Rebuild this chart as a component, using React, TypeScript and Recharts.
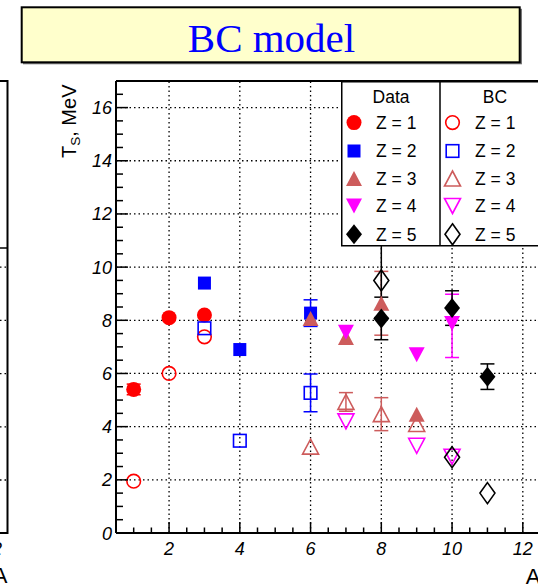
import React from 'react';
import { ScatterChart, Scatter, XAxis, YAxis, ErrorBar, ReferenceLine } from 'recharts';

// series styling per charge Z
const zLabels = ['Z = 1', 'Z = 2', 'Z = 3', 'Z = 4', 'Z = 5'];
const zColors = ['#ff0000', '#0000ff', '#cd5c5c', '#ff00ff', '#000000'];
const zShapes = ['circle', 'square', 'triUp', 'triDown', 'diamond'];

// measured T_S (filled markers), a = mass number A
const dataZ1 = [{ a: 1, t: 5.4, err: 0.2 }, { a: 2, t: 8.1 }, { a: 3, t: 8.2 }];
const dataZ2 = [{ a: 3, t: 9.4 }, { a: 4, t: 6.9 }, { a: 6, t: 8.27, err: 0.5 }];
const dataZ3 = [{ a: 6, t: 8.07 }, { a: 7, t: 7.35 }, { a: 8, t: 8.64, err: 1.2 }, { a: 9, t: 4.47 }];
const dataZ4 = [{ a: 7, t: 7.55 }, { a: 9, t: 6.7 }, { a: 10, t: 7.88, err: [1.28, 1.1] }];
const dataZ5 = [{ a: 8, t: 8.07, err: 0.8 }, { a: 10, t: 8.46, err: 0.65 }, { a: 11, t: 5.88, err: 0.48 }];

// BC model (open markers)
const bcZ1 = [{ a: 1, t: 1.95 }, { a: 2, t: 6.0 }, { a: 3, t: 7.38 }];
const bcZ2 = [{ a: 3, t: 7.7 }, { a: 4, t: 3.47 }, { a: 6, t: 5.27, err: 0.71 }];
const bcZ3 = [{ a: 6, t: 3.25 }, { a: 7, t: 4.93, err: 0.35 }, { a: 8, t: 4.47, err: 0.62 }, { a: 9, t: 4.1 }];
const bcZ4 = [{ a: 7, t: 4.2 }, { a: 9, t: 3.28 }, { a: 10, t: 2.87 }];
const bcZ5 = [{ a: 8, t: 9.5, err: 1.4 }, { a: 10, t: 2.85 }, { a: 11, t: 1.5 }];

const measured = [dataZ1, dataZ2, dataZ3, dataZ4, dataZ5];
const model = [bcZ1, bcZ2, bcZ3, bcZ4, bcZ5];

// axes
const xDomain = [0.5, 12.5];
const yDomain = [0, 17];
const xMajor = [2, 4, 6, 8, 10, 12];
const yMajor = [0, 2, 4, 6, 8, 10, 12, 14, 16];
const halfSteps = (from: number, to: number) => {
  const out: number[] = [];
  for (let v = from; v <= to + 1e-9; v += 0.5) out.push(v);
  return out;
};
const xTicks = halfSteps(1, 12);
const yTicks = halfSteps(0, 16.5);

const SANS = "'Liberation Sans', Arial, Helvetica, sans-serif";
const SERIF = "'Liberation Serif', 'Times New Roman', serif";

function Marker({ shape, color, open, cx, cy }: any) {
  const sw = open ? 1.6 : 0;
  const fill = open ? 'none' : color;
  switch (shape) {
    case 'circle':
      return <circle cx={cx} cy={cy} r={open ? 6.8 : 7.5} fill={fill} stroke={color} strokeWidth={sw} />;
    case 'square': {
      const h = open ? 6.3 : 6.5;
      return <rect x={cx - h} y={cy - h} width={2 * h} height={2 * h} fill={fill} stroke={color} strokeWidth={sw} />;
    }
    case 'triUp': {
      const w = 8, h = 7.5;
      return <polygon points={`${cx},${cy - h} ${cx + w},${cy + h} ${cx - w},${cy + h}`} fill={fill} stroke={color} strokeWidth={sw} />;
    }
    case 'triDown': {
      const w = 8, h = 7.5;
      return <polygon points={`${cx},${cy + h} ${cx + w},${cy - h} ${cx - w},${cy - h}`} fill={fill} stroke={color} strokeWidth={sw} />;
    }
    default: {
      const w = open ? 7.5 : 8, h = open ? 10.5 : 10;
      return <polygon points={`${cx},${cy - h} ${cx + w},${cy} ${cx},${cy + h} ${cx - w},${cy}`} fill={fill} stroke={color} strokeWidth={sw} />;
    }
  }
}

const XTick = (props: any) => {
  const { x, y, payload } = props;
  const major = xMajor.includes(payload.value);
  return (
    <g>
      <line x1={x} x2={x} y1={y} y2={y - (major ? 11 : 5.5)} stroke="#000" strokeWidth={1.5} />
      {major && (
        <text x={x} y={y + 21.5} textAnchor="middle" fontFamily={SANS} fontStyle="italic" fontSize={18} fill="#000">
          {payload.value}
        </text>
      )}
    </g>
  );
};

const YTick = (props: any) => {
  const { x, y, payload } = props;
  const major = yMajor.includes(payload.value);
  return (
    <g>
      <line x1={x} x2={x + (major ? 12 : 7)} y1={y} y2={y} stroke="#000" strokeWidth={1.5} />
      {major && (
        <text x={x - 4} y={y + 6.5} textAnchor="end" fontFamily={SANS} fontStyle="italic" fontSize={18} fill="#000">
          {payload.value}
        </text>
      )}
    </g>
  );
};

function LegendBox() {
  const rows = [41.6, 70, 97.5, 125, 153.3];
  return (
    <svg width={212} height={166} style={{ position: 'absolute', left: 341, top: 81, overflow: 'visible' }}>
      <rect x={0.75} y={0.75} width={210} height={164} fill="#fff" stroke="#000" strokeWidth={1.5} />
      <line x1={99} x2={99} y1={0.75} y2={164.75} stroke="#000" strokeWidth={1.5} />
      <text x={50} y={21.5} textAnchor="middle" fontFamily={SANS} fontSize={17.5}>Data</text>
      <text x={154} y={21.5} textAnchor="middle" fontFamily={SANS} fontSize={17.5}>BC</text>
      {zLabels.map((label, i) => (
        <g key={label}>
          <Marker shape={zShapes[i]} color={zColors[i]} open={false} cx={13} cy={rows[i]} />
          <text x={35} y={rows[i] + 6.3} fontFamily={SANS} fontSize={17.5}>{label}</text>
          <Marker shape={zShapes[i]} color={zColors[i]} open cx={111.5} cy={rows[i]} />
          <text x={134} y={rows[i] + 6.3} fontFamily={SANS} fontSize={17.5}>{label}</text>
        </g>
      ))}
    </svg>
  );
}

function Decor() {
  // title pave, axis titles and the edge of the neighbouring panel
  const gridY = [267.2, 320.4, 373.6, 426.8, 480];
  return (
    <svg width={538} height={586} style={{ position: 'absolute', left: 0, top: 0, pointerEvents: 'none' }}>
      <rect x={23} y={8.8} width={499} height={55.5} fill="#777" />
      <rect x={21.7} y={7.3} width={498} height={55} fill="#ffffcc" stroke="#000" strokeWidth={2} />
      <text x={271.5} y={51.5} textAnchor="middle" fontFamily={SERIF} fontSize={41} fill="#0000ff">BC model</text>

      <text transform="translate(76,158) rotate(-90)" fontFamily={SANS} fontSize={20} fill="#000">
        T<tspan dy={4} fontSize={13.5}>S</tspan><tspan dy={-4}>, MeV</tspan>
      </text>
      <text x={540.5} y={584} textAnchor="end" fontFamily={SANS} fontSize={22} fill="#000">A</text>

      <line x1={7.5} x2={7.5} y1={80} y2={534} stroke="#000" strokeWidth={2} />
      <line x1={0} x2={7.5} y1={81} y2={81} stroke="#000" strokeWidth={2} />
      <line x1={0} x2={7.5} y1={533} y2={533} stroke="#000" strokeWidth={2} />
      <line x1={0} x2={7.5} y1={248} y2={248} stroke="#000" strokeWidth={1.5} />
      {gridY.map((y) => (
        <line key={y} x1={0} x2={6} y1={y} y2={y} stroke="#000" strokeWidth={1.3} strokeDasharray="1.5 3" />
      ))}
      <text x={-8} y={554.5} textAnchor="middle" fontFamily={SANS} fontStyle="italic" fontSize={18}>12</text>
      <text x={7.5} y={583} textAnchor="end" fontFamily={SANS} fontSize={22}>A</text>
    </svg>
  );
}

export default function App() {
  return (
    <div style={{ position: 'fixed', left: 0, top: 0, width: 538, height: 586, overflow: 'hidden', background: '#fff' }}>
      <div style={{ position: 'absolute', left: 0, top: 0 }}>
        <ScatterChart width={560} height={586} margin={{ top: 81, right: 19.5, bottom: 0, left: 56 }}>
          <XAxis
            type="number"
            dataKey="a"
            domain={xDomain}
            ticks={xTicks}
            interval={0}
            allowDataOverflow
            height={53}
            tickSize={0}
            tickMargin={0}
            tickLine={false}
            axisLine={{ stroke: '#000', strokeWidth: 2 }}
            tick={<XTick />}
          />
          <YAxis
            type="number"
            dataKey="t"
            domain={yDomain}
            ticks={yTicks}
            interval={0}
            allowDataOverflow
            width={60}
            tickSize={0}
            tickMargin={0}
            tickLine={false}
            axisLine={{ stroke: '#000', strokeWidth: 2 }}
            tick={<YTick />}
          />
          {xMajor.map((v) => (
            <ReferenceLine key={'gx' + v} x={v} stroke="#000" strokeWidth={1.3} strokeDasharray="1.5 3" />
          ))}
          {yMajor.filter((v) => v > 0).map((v) => (
            <ReferenceLine key={'gy' + v} y={v} stroke="#000" strokeWidth={1.3} strokeDasharray="1.5 3" />
          ))}
          <ReferenceLine y={17} stroke="#000" strokeWidth={2} />
          <ReferenceLine x={12.5} stroke="#000" strokeWidth={2} />

          {measured.map((pts, i) => (
            <Scatter
              key={'d' + i}
              data={pts}
              isAnimationActive={false}
              shape={(p: any) => <Marker shape={zShapes[i]} color={zColors[i]} open={false} cx={p.cx} cy={p.cy} />}
            >
              <ErrorBar dataKey="err" direction="y" width={7} stroke={zColors[i]} strokeWidth={1.5} isAnimationActive={false} />
            </Scatter>
          ))}
          {model.map((pts, i) => (
            <Scatter
              key={'m' + i}
              data={pts}
              isAnimationActive={false}
              shape={(p: any) => <Marker shape={zShapes[i]} color={zColors[i]} open cx={p.cx} cy={p.cy} />}
            >
              <ErrorBar dataKey="err" direction="y" width={7} stroke={zColors[i]} strokeWidth={1.5} isAnimationActive={false} />
            </Scatter>
          ))}
        </ScatterChart>
      </div>
      <Decor />
      <LegendBox />
    </div>
  );
}
